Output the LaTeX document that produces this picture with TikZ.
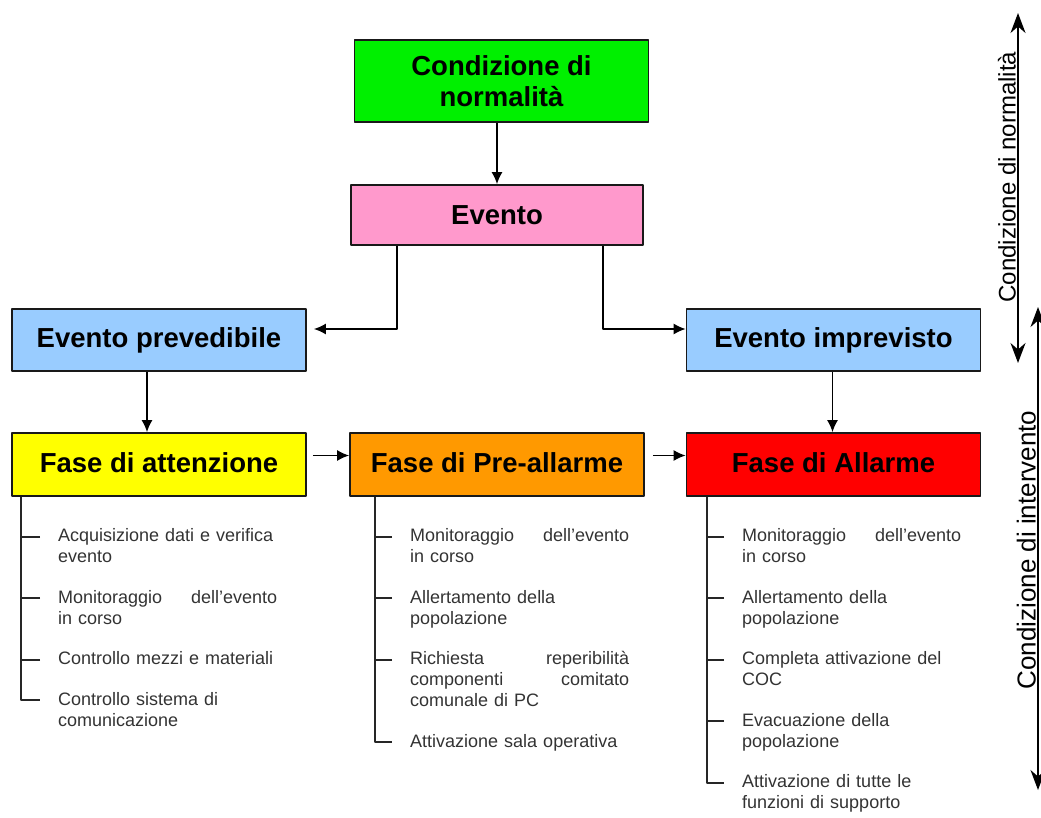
\documentclass[tikz,border=0pt]{standalone}
\usepackage{fontspec}
\setmainfont{Liberation Sans}
\usetikzlibrary{arrows.meta,positioning}

\definecolor{normgreen}{HTML}{00F000}
\definecolor{eventpink}{HTML}{FF99CC}
\definecolor{skyblue}{HTML}{99CCFF}
\definecolor{phaseyellow}{HTML}{FFFF00}
\definecolor{phaseorange}{HTML}{FF9900}
\definecolor{phasered}{HTML}{FF0000}

\newcommand{\jline}[2]{\leavevmode\hbox to 219pt{#1\hfill #2}}

\begin{document}
\begin{tikzpicture}[x=1pt, y=-1pt, line join=round,
  box/.style={draw=black!90, line width=1.8pt, minimum width=294pt, align=center,
    font=\fontsize{27.5}{31}\selectfont\bfseries},
  conn/.style={line width=1.4pt, -{Latex[length=12pt,width=11pt]}},
  spine/.style={line width=1.9pt, black!85},
  item/.style={inner sep=0pt, text width=219pt, align=left, text=black!80,
    font=\fontsize{18}{21}\selectfont},
  side/.style={line width=1.6pt,
    {Stealth[length=20pt,width=15pt]}-{Stealth[length=20pt,width=15pt]}},
  sidelbl/.style={rotate=90, inner sep=0pt, anchor=south}]
\useasboundingbox (0,0) rectangle (1041,817);

% boxes
\node[box, fill=normgreen, minimum height=82pt] (norm) at (501.5,81) {Condizione di\\normalità};
\node[box, fill=eventpink, minimum height=60pt, minimum width=292pt] (evento) at (497,215) {Evento};
\node[box, fill=skyblue, minimum height=62pt] (prev) at (159,340) {Evento prevedibile};
\node[box, fill=skyblue, minimum height=62pt] (impr) at (833.5,340) {Evento imprevisto};
\node[box, fill=phaseyellow, minimum height=63pt, text depth=0.45em] (att) at (159,464.5) {Fase di attenzione};
\node[box, fill=phaseorange, minimum height=63pt, text depth=0.45em] (pre) at (497,464.5) {Fase di Pre-allarme};
\node[box, fill=phasered, minimum height=63pt, text depth=0.45em] (allarme) at (833.5,464.5) {Fase di Allarme};

% connectors
\draw[conn] (evento.north |- norm.south) -- (evento.north);
\draw[conn] ([xshift=-100pt]evento.south) |- ([xshift=7pt,yshift=11pt]prev.east);
\draw[conn] ([xshift=106pt]evento.south) |- ([yshift=11pt]impr.west);
\draw[conn] ([xshift=-12pt]prev.south) -- ([xshift=-12pt]att.north);
\draw[conn] ([xshift=-1pt]impr.south) -- ([xshift=-1pt]allarme.north);
\draw[conn] ([xshift=6pt,yshift=9pt]att.east) -- ([yshift=9pt]pre.west);
\draw[conn] ([xshift=8pt,yshift=9pt]pre.east) -- ([yshift=9pt]allarme.west);

% attention list
\node[item, anchor=north west] (a1) at (58,527) {\strut Acquisizione dati e verifica\\evento\strut};
\node[item, below=19pt of a1] (a2) {\strut\jline{Monitoraggio}{dell’evento}\\in corso\strut};
\node[item, below=19pt of a2] (a3) {\strut Controllo mezzi e materiali\strut};
\node[item, below=19pt of a3] (a4) {\strut Controllo sistema di\\comunicazione\strut};

% pre-alarm list
\node[item, anchor=north west] (p1) at (410,527) {\strut\jline{Monitoraggio}{dell’evento}\\in corso\strut};
\node[item, below=19pt of p1] (p2) {\strut Allertamento della\\popolazione\strut};
\node[item, below=19pt of p2] (p3) {\strut\jline{Richiesta}{reperibilità}\\\strut\jline{componenti}{comitato}\\comunale di PC\strut};
\node[item, below=19pt of p3] (p4) {\strut Attivazione sala operativa\strut};

% alarm list
\node[item, anchor=north west] (r1) at (742,527) {\strut\jline{Monitoraggio}{dell’evento}\\in corso\strut};
\node[item, below=19pt of r1] (r2) {\strut Allertamento della\\popolazione\strut};
\node[item, below=19pt of r2] (r3) {\strut Completa attivazione del\\COC\strut};
\node[item, below=19pt of r3] (r4) {\strut Evacuazione della\\popolazione\strut};
\node[item, below=19pt of r4] (r5) {\strut Attivazione di tutte le\\funzioni di supporto\strut};

% list spines and ticks
\foreach \n in {a1,a2,a3,p1,p2,p3,r1,r2,r3,r4}
  \draw[spine] ([xshift=-18pt,yshift=-10pt]\n.north west) -- +(-18,0);
\draw[spine] ([xshift=10pt]att.south west) |- ([xshift=-18pt,yshift=-10pt]a4.north west);
\draw[spine] ([xshift=26pt]pre.south west) |- ([xshift=-18pt,yshift=-10pt]p4.north west);
\draw[spine] ([xshift=21pt]allarme.south west) |- ([xshift=-18pt,yshift=-10pt]r5.north west);

% side arrows
\coordinate (nTop) at (1018,13);
\coordinate (nBot) at (1018,363);
\draw[side] (nTop) -- (nBot);
\node[sidelbl, font=\fontsize{24}{28}\selectfont] (nLbl) at (1016,177) {Condizione di normalità};
\coordinate (iTop) at (1038,307);
\coordinate (iBot) at (1038,790);
\draw[side] (iTop) -- (iBot);
\node[sidelbl, font=\fontsize{26}{30}\selectfont] (iLbl) at (1036,550) {Condizione di intervento};
\end{tikzpicture}
\end{document}
